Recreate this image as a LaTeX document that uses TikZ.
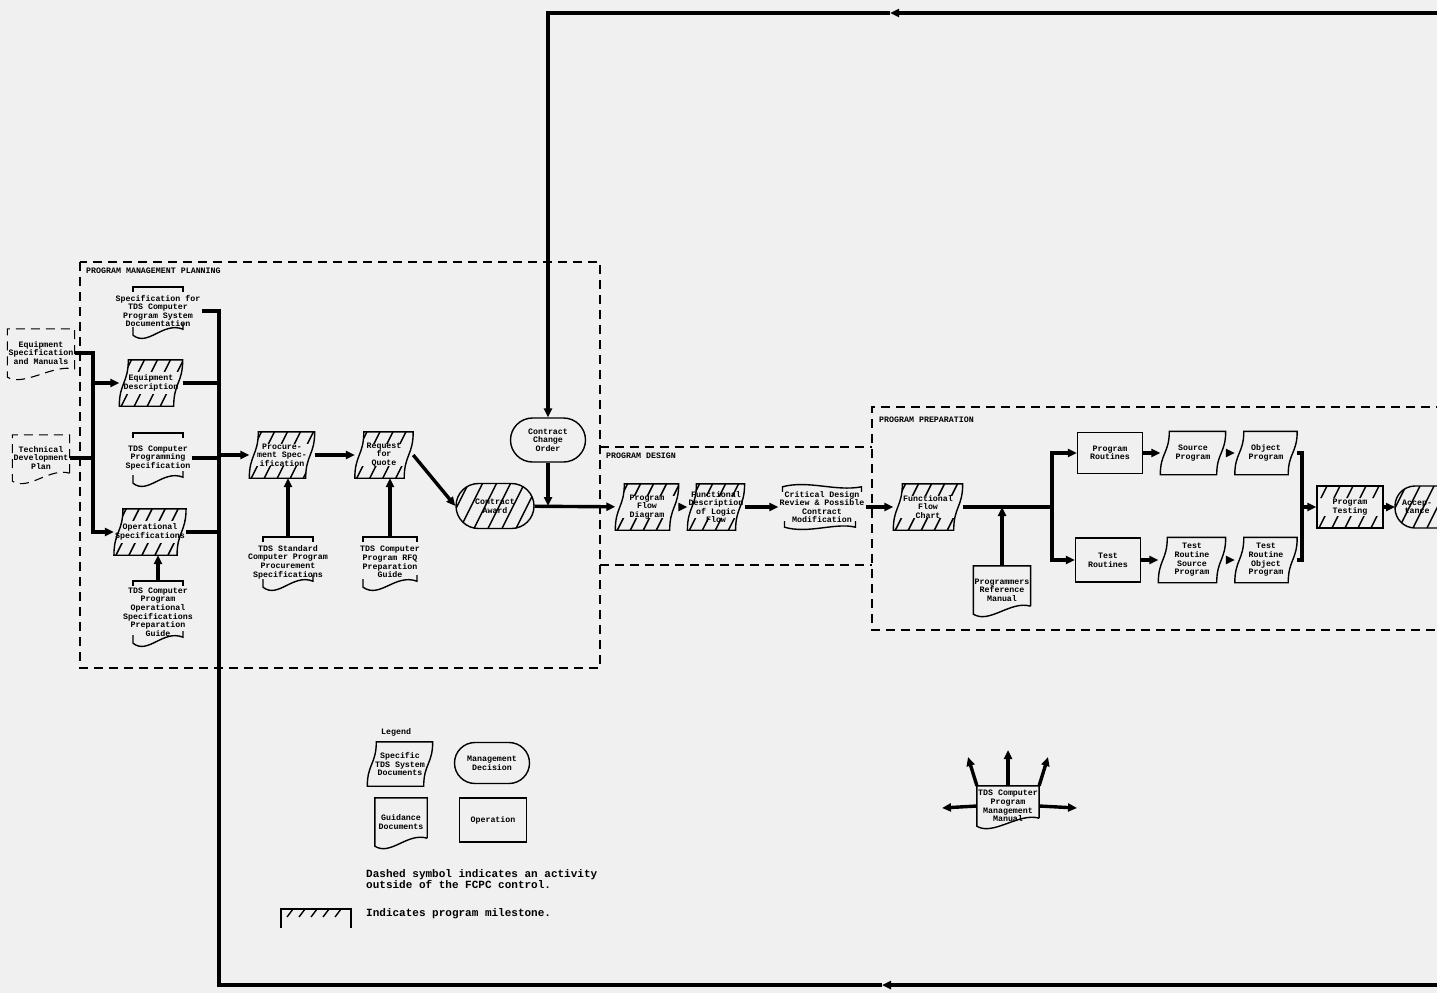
\documentclass[tikz,border=0pt]{standalone}
\usepackage{fontspec}
\setmonofont{Liberation Mono}
\usetikzlibrary{arrows.meta,shapes.misc}

\newcommand{\lblfont}{\ttfamily\bfseries\fontsize{8.3}{8.6}\selectfont}
\newcommand{\keyfont}{\ttfamily\bfseries\fontsize{11}{10}\selectfont}

\tikzset{
	lbl/.style={font=\lblfont, align=center, inner sep=1pt},
	shp/.style={draw, line width=1.4pt},
	opbox/.style={lbl, shp},
	decision/.style={lbl, shp, rounded rectangle},
	wire/.style={line width=3.4pt},
	flow/.style={wire, -{Triangle[length=9pt,width=8pt]}},
	region/.style={line width=1.1pt, dash pattern=on 9pt off 6pt},
	hatch/.style={path picture={
		\foreach \k in {0,...,10}
			\draw[line width=1.5pt] ([xshift={\k*14pt-24pt}]path picture bounding box.south west) -- ++(26pt,52pt);}},
	hatchband/.style={path picture={
		\clip (path picture bounding box.north west) rectangle ([yshift=-12pt]path picture bounding box.north east)
			([yshift=12pt]path picture bounding box.south west) rectangle (path picture bounding box.south east);
		\foreach \k in {0,...,10}
			\draw[line width=1.5pt] ([xshift={\k*13pt-24pt}]path picture bounding box.south west) -- ++(26pt,52pt);}}
}

% outline of a system document (tape)
\newcommand{\tapeshape}[2][]{%
	\path[shp,#1] ([xshift=9pt]#2.north west) -- (#2.north east)
		.. controls (#2.east) and ([xshift=-9pt]#2.east) .. ([xshift=-9pt]#2.south east)
		-- (#2.south west)
		.. controls (#2.west) and ([xshift=9pt]#2.west) .. cycle;}
% outline of a guidance document
\newcommand{\guidefull}[2][]{%
	\draw[shp,#1] ([yshift=8pt]#2.south east) -- (#2.north east) -- (#2.north west) -- (#2.south west)
		.. controls ([xshift=16pt,yshift=-10pt]#2.south west) and ([xshift=-20pt,yshift=14pt]#2.south east) .. ([yshift=8pt]#2.south east);}
% guidance document, top bracket and wave only
\newcommand{\guidepart}[2][25pt]{%
	\draw[shp] ([xshift=-#1,yshift=-5pt]#2.north) -- ([xshift=-#1]#2.north) -- ([xshift=#1]#2.north) -- ([xshift=#1,yshift=-5pt]#2.north);
	\draw[shp] ([xshift=-#1,yshift=8pt]#2.south) -- ([xshift=-#1]#2.south)
		.. controls ([xshift=-10pt,yshift=-12pt]#2.south) and ([xshift=5pt,yshift=14pt]#2.south) .. ([xshift=#1,yshift=6pt]#2.south) -- ([xshift=#1,yshift=12pt]#2.south);}

\begin{document}
\begin{tikzpicture}[x=1pt, y=-1pt]
	\useasboundingbox (0,0) rectangle (1437,993);
	\clip (0,0) rectangle (1437,993);
	\fill[black!6] (0,0) rectangle (1437,993);

	% Regions
	\draw[region] (80,262) rectangle (600,668);
	\draw[region] (600,447) -- (872,447);
	\draw[region] (600,565) -- (872,565);
	\draw[region] (1445,407) -- (872,407) -- (872,630) -- (1445,630);
	\node[lbl, anchor=west] at (85,271) {PROGRAM MANAGEMENT PLANNING};
	\node[lbl, anchor=west] at (605,456) {PROGRAM DESIGN};
	\node[lbl, anchor=west] at (878,420) {PROGRAM PREPARATION};

	% Outside inputs
	\node[lbl, minimum height=48pt] (eqspec) at (41,353) {Equipment\\Specification\\and Manuals};
	\guidefull[region]{eqspec}
	\node[lbl, minimum height=46pt] (techplan) at (41,458) {Technical\\Development\\Plan};
	\guidefull[region]{techplan}

	% Program management planning
	\node[lbl, minimum height=48pt] (specdoc) at (158,311) {Specification for\\TDS Computer\\Program System\\Documentation};
	\guidepart{specdoc}
	\node[lbl, minimum width=63pt, minimum height=46pt] (eqdesc) at (151,383) {Equipment\\Description};
	\tapeshape[hatchband]{eqdesc}
	\node[lbl, minimum height=50pt] (progspec) at (158,458) {TDS Computer\\Programming\\Specification};
	\guidepart{progspec}
	\node[lbl, minimum width=66pt, minimum height=46pt] (opspec) at (150,532) {Operational\\Specifications};
	\tapeshape[hatchband]{opspec}
	\node[lbl, minimum height=62pt] (opguide) at (158,612) {TDS Computer\\Program\\Operational\\Specifications\\Preparation\\Guide};
	\guidepart{opguide}

	\node[lbl, minimum width=65pt, minimum height=46pt] (procspec) at (282,455) {Procure-\\ment Spec-\\ification};
	\tapeshape[hatchband]{procspec}
	\node[lbl, minimum height=50pt] (procguide) at (288,562) {TDS Standard\\Computer Program\\Procurement\\Specifications};
	\guidepart{procguide}
	\node[lbl, minimum width=58pt, minimum height=46pt] (rfq) at (384,455) {Request\\for\\Quote};
	\tapeshape[hatchband]{rfq}
	\node[lbl, minimum height=50pt] (rfqguide) at (390,562) {TDS Computer\\Program RFQ\\Preparation\\Guide};
	\guidepart[27pt]{rfqguide}

	\node[decision, hatch, minimum width=80pt, minimum height=45pt] (award) at (495,506) {Contract\\Award};
	\node[decision, minimum width=77pt, minimum height=44pt] (cco) at (548,440) {Contract\\Change\\Order};

	% Program design
	\node[lbl, minimum width=63pt, minimum height=46pt] (pfd) at (647,507) {Program\\Flow\\Diagram};
	\tapeshape[hatchband]{pfd}
	\node[lbl, minimum width=56pt, minimum height=46pt] (fdlf) at (716,507) {Functional\\Description\\of Logic\\Flow};
	\tapeshape[hatchband]{fdlf}
	\node[lbl, minimum height=40pt] (cdr) at (822,507) {Critical Design\\Review \& Possible\\Contract\\Modification};
	\draw[shp] ([xshift=4pt,yshift=-5pt]cdr.north west) -- ([xshift=4pt]cdr.north west)
		.. controls ([xshift=30pt,yshift=7pt]cdr.north west) and ([xshift=-30pt,yshift=-5pt]cdr.north east) .. ([xshift=-4pt]cdr.north east) -- ([xshift=-4pt,yshift=-5pt]cdr.north east);
	\draw[shp] ([xshift=6pt,yshift=6pt]cdr.south west) -- ([xshift=6pt]cdr.south west)
		.. controls ([xshift=30pt,yshift=-7pt]cdr.south west) and ([xshift=-30pt,yshift=5pt]cdr.south east) .. ([xshift=-10pt]cdr.south east) -- ([xshift=-10pt,yshift=6pt]cdr.south east);

	% Program preparation
	\node[lbl, minimum width=69pt, minimum height=46pt] (ffc) at (928,507) {Functional\\Flow\\Chart};
	\tapeshape[hatchband]{ffc}
	\coordinate (split) at (1052,507);
	\node[lbl, minimum width=50pt, minimum height=48pt] (prm) at (1002,590) {Programmers\\Reference\\Manual};
	\guidefull{prm}
	\node[opbox, minimum width=65pt, minimum height=41pt] (pr) at (1110,453) {Program\\Routines};
	\node[opbox, minimum width=65pt, minimum height=44pt] (tr) at (1108,560) {Test\\Routines};
	\node[lbl, minimum width=65pt, minimum height=43pt] (srcp) at (1193,453) {Source\\Program};
	\tapeshape{srcp}
	\node[lbl, minimum width=62pt, minimum height=43pt] (objp) at (1266,453) {Object\\Program};
	\tapeshape{objp}
	\node[lbl, minimum width=67pt, minimum height=45pt] (trsp) at (1192,560) {Test\\Routine\\Source\\Program};
	\tapeshape{trsp}
	\node[lbl, minimum width=62pt, minimum height=45pt] (trop) at (1266,560) {Test\\Routine\\Object\\Program};
	\tapeshape{trop}
	\coordinate (merge) at (1302,507);
	\node[opbox, hatchband, minimum width=66pt, minimum height=42pt] (ptest) at (1350,507) {Program\\Testing};
	% acceptance, cut by the page edge
	\coordinate (acc) at (1395,507);
	\path[shp, hatch, rounded corners=20pt] ([yshift=21pt]acc) rectangle ++(90,42);
	\node[lbl, anchor=west, inner xsep=7pt] (accept) at (acc) {Accep-\\tance};

	% Connectors, planning
	\coordinate (lbus) at (93,353);
	\draw[flow] (eqspec.east) -- (lbus) |- (opspec);
	\draw[wire] (techplan.east) -- (techplan.east -| lbus);
	\draw[flow] (lbus |- eqdesc) -- (eqdesc);
	\coordinate (rbus) at (219,985);
	\coordinate (botR) at (1437,985);
	\coordinate (botM) at (882,985);
	\draw[flow] (botR) -- (botM);
	\draw[wire] (botM) -- (rbus) |- (specdoc.east);
	\draw[wire] (eqdesc.east) -- (eqdesc.east -| rbus);
	\draw[wire] (progspec.east) -- (progspec.east -| rbus);
	\draw[wire] (opspec.east) -- (opspec.east -| rbus);
	\draw[flow] (opguide.north) -- (opguide.north |- opspec.south);
	\draw[flow] (procspec -| rbus) -- (procspec);
	\draw[flow] (procguide.north) -- (procguide.north |- procspec.south);
	\draw[flow] (procspec) -- (rfq);
	\draw[flow] (rfqguide.north) -- (rfqguide.north |- rfq.south);
	\draw[flow] (rfq.east) -- (award.west);

	% Connectors, change order loop
	\coordinate (topR) at (1437,13);
	\coordinate (topM) at (890,13);
	\draw[flow] (topR) -- (topM);
	\draw[flow] (topM) -| (cco);
	\draw[flow] (cco) -- (cco.south |- award.east);

	% Connectors, design and preparation
	\draw[flow] (award) -- (pfd);
	\draw[flow] (pfd) -- (fdlf);
	\draw[flow] (fdlf) -- (cdr);
	\draw[flow] (cdr) -- (ffc);
	\draw[wire] (ffc.east) -- (split);
	\draw[flow] (prm.north) -- (prm.north |- ffc.east);
	\draw[flow] (split) |- (pr);
	\draw[flow] (split) |- (tr);
	\draw[flow] (pr) -- (srcp);
	\draw[flow] (srcp) -- (objp);
	\draw[flow] (tr) -- (trsp);
	\draw[flow] (trsp) -- (trop);
	\draw[wire] (objp.east) -| (merge);
	\draw[wire] (trop.east) -| (merge);
	\draw[flow] (merge) -- (ptest);
	\draw[flow] (ptest) -- (accept);

	% Legend
	\node[lbl, anchor=west] at (380,732) {Legend};
	\node[lbl, minimum width=65pt, minimum height=44pt] (lgtape) at (400,764) {Specific\\TDS System\\Documents};
	\tapeshape{lgtape}
	\node[decision, minimum width=77pt, minimum height=41pt] (lgdec) at (492,763) {Management\\Decision};
	\node[lbl, minimum width=52pt, minimum height=48pt] (lgdoc) at (401,822) {Guidance\\Documents};
	\guidefull{lgdoc}
	\node[opbox, minimum width=67pt, minimum height=44pt] (lgop) at (493,820) {Operation};
	\node[font=\keyfont, align=left, anchor=north west, inner sep=0pt] (lgnote) at (366,869) {Dashed symbol indicates an activity\\outside of the FCPC control.};
	\coordinate (mstone) at (281,909);
	\draw[shp] (mstone) ++(0,19) -- (mstone) -- ++(70,0) -- ++(0,19);
	\foreach \k in {1,...,5}
		\draw[line width=1.4pt] ([xshift=\k*12pt]mstone) -- ++(-6pt,-8pt);
	\node[font=\keyfont, anchor=west, inner sep=0pt] (lgmile) at (366,914) {Indicates program milestone.};

	% Management manual
	\node[lbl, minimum width=55pt, minimum height=40pt] (mgmt) at (1008,806) {TDS Computer\\Program\\Management\\Manual};
	\guidefull{mgmt}
	\coordinate (mgul) at (968,757);
	\coordinate (mgu) at (1008,750);
	\coordinate (mgur) at (1048,757);
	\coordinate (mgl) at (942,808);
	\coordinate (mgr) at (1077,808);
	\draw[flow] (mgmt.north west) -- (mgul);
	\draw[flow] (mgmt.north) -- (mgu);
	\draw[flow] (mgmt.north east) -- (mgur);
	\draw[flow] (mgmt.west) -- (mgl);
	\draw[flow] (mgmt.east) -- (mgr);

\end{tikzpicture}
\end{document}
